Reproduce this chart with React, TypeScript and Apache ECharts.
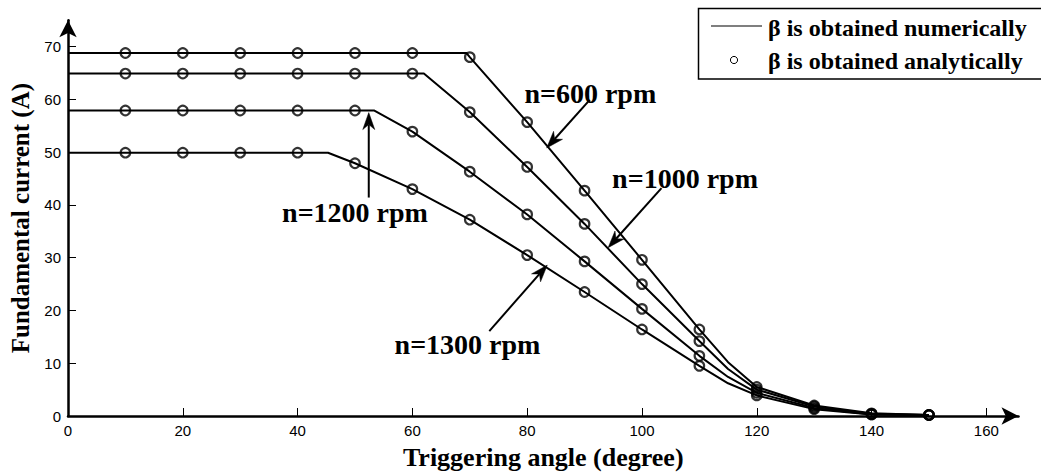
import React, { useEffect, useRef } from "react";
import * as echarts from "echarts";

// ---- data ----
const markerAngles = [10, 20, 30, 40, 50, 60, 70, 80, 90, 100, 110, 120, 130, 140, 150];

// analytical results (circles)
const analytic600 = [68.8, 68.8, 68.8, 68.8, 68.8, 68.8, 68.0, 55.7, 42.7, 29.6, 16.4, 5.5, 2.0, 0.5, 0.2];
const analytic1000 = [64.9, 64.9, 64.9, 64.9, 64.9, 64.9, 57.6, 47.2, 36.4, 25.0, 14.2, 5.0, 1.8, 0.4, 0.2];
const analytic1200 = [57.9, 57.9, 57.9, 57.9, 57.9, 53.9, 46.3, 38.2, 29.3, 20.3, 11.4, 4.4, 1.5, 0.3, 0.2];
const analytic1300 = [49.9, 49.9, 49.9, 49.9, 47.9, 43.0, 37.2, 30.5, 23.5, 16.4, 9.5, 3.9, 1.3, 0.3, 0.2];

// numerical results (lines): [angle, current]
const numeric600 = [[0, 68.8], [69.4, 68.8], [70, 68.0], [80, 55.7], [90, 42.7], [100, 29.6], [110, 16.4], [115, 10.2], [120, 5.5], [130, 2.0], [140, 0.5], [150, 0.2]];
const numeric1000 = [[0, 64.9], [62, 64.9], [70, 57.6], [80, 47.2], [90, 36.4], [100, 25.0], [110, 14.2], [115, 8.9], [120, 5.0], [130, 1.8], [140, 0.4], [150, 0.2]];
const numeric1200 = [[0, 57.9], [53.3, 57.9], [60, 53.9], [70, 46.3], [80, 38.2], [90, 29.3], [100, 20.3], [110, 11.4], [115, 7.4], [120, 4.4], [130, 1.5], [140, 0.3], [150, 0.2]];
const numeric1300 = [[0, 49.9], [45.3, 49.9], [50, 47.9], [60, 43.0], [70, 37.2], [80, 30.5], [90, 23.5], [100, 16.4], [110, 9.5], [115, 6.2], [120, 3.9], [130, 1.3], [140, 0.3], [150, 0.2]];

const xTicks = [0, 20, 40, 60, 80, 100, 120, 140, 160];
const yTicks = [0, 10, 20, 30, 40, 50, 60, 70];

const legendNumeric = "\u03b2 is obtained numerically";
const legendAnalytic = "\u03b2 is obtained analytically";

// annotations in data coordinates: label centre, arrow tail, arrow tip
const annotations = [
  { text: "n=600 rpm", at: [91.0, 61.2], from: [90.9, 59.9], to: [83.4, 50.8] },
  { text: "n=1000 rpm", at: [107.5, 45.1], from: [103.4, 43.2], to: [94.1, 31.9] },
  { text: "n=1200 rpm", at: [50.0, 38.5], from: [52.4, 41.4], to: [52.4, 57.5] },
  { text: "n=1300 rpm", at: [69.6, 13.6], from: [73.4, 16.1], to: [83.5, 28.6] },
];

const SERIF = '"Liberation Serif", "Times New Roman", serif';
const SANS = '"Liberation Sans", Arial, Helvetica, sans-serif';

function lineSeries(name: string, data: number[][]) {
  return {
    name,
    type: "line",
    data,
    symbol: "none",
    smooth: false,
    lineStyle: { color: "#000", width: 2 },
    z: 3,
  };
}

function scatterSeries(name: string, values: number[]) {
  return {
    name,
    type: "scatter",
    data: markerAngles.map((a, i) => [a, values[i]]),
    symbol: "circle",
    symbolSize: 9.5,
    itemStyle: { color: "rgba(0,0,0,0)", borderColor: "#000", borderWidth: 2.2 },
    z: 4,
  };
}

function arrowHead(tip: number[], tail: number[], len: number, half: number) {
  const dx = tip[0] - tail[0];
  const dy = tip[1] - tail[1];
  const d = Math.sqrt(dx * dx + dy * dy) || 1;
  const ux = dx / d;
  const uy = dy / d;
  const nx = -uy;
  const ny = ux;
  const bx = tip[0] - ux * len;
  const by = tip[1] - uy * len;
  const mx = tip[0] - ux * len * 0.7;
  const my = tip[1] - uy * len * 0.7;
  return [
    [tip[0], tip[1]],
    [bx + nx * half, by + ny * half],
    [mx, my],
    [bx - nx * half, by - ny * half],
  ];
}

export default function App() {
  const ref = useRef<HTMLDivElement>(null);

  useEffect(() => {
    if (!ref.current) return;
    const chart = echarts.init(ref.current, undefined, { renderer: "svg" });

    const option: any = {
      animation: false,
      backgroundColor: "#fff",
      grid: { left: 68, right: 22.5, top: 20.25, bottom: 58.3, containLabel: false },
      xAxis: {
        type: "value",
        min: 0,
        max: 165.6,
        name: "Triggering angle (degree)",
        nameLocation: "middle",
        nameGap: 28,
        nameTextStyle: { fontFamily: SERIF, fontWeight: "bold", fontSize: 26, color: "#000" },
        axisLine: {
          onZero: false,
          symbol: ["none", "arrow"],
          symbolSize: [13, 17],
          lineStyle: { color: "#000", width: 2.5 },
        },
        axisTick: {
          inside: true,
          length: 8,
          customValues: xTicks,
          lineStyle: { color: "#000", width: 1 },
        },
        axisLabel: {
          customValues: xTicks,
          margin: 7,
          fontFamily: SANS,
          fontSize: 15,
          color: "#000",
        },
        splitLine: { show: false },
      },
      yAxis: {
        type: "value",
        min: 0,
        max: 75,
        name: "Fundamental current (A)",
        nameLocation: "middle",
        nameRotate: 90,
        nameGap: 33,
        nameTextStyle: { fontFamily: SERIF, fontWeight: "bold", fontSize: 25, color: "#000" },
        axisLine: {
          onZero: false,
          symbol: ["none", "arrow"],
          symbolSize: [13, 17],
          lineStyle: { color: "#000", width: 2.5 },
        },
        axisTick: {
          inside: true,
          length: 8,
          customValues: yTicks,
          lineStyle: { color: "#000", width: 1 },
        },
        axisLabel: {
          customValues: yTicks,
          margin: 7,
          fontFamily: SANS,
          fontSize: 15,
          color: "#000",
        },
        splitLine: { show: false },
      },
      series: [
        lineSeries(legendNumeric, numeric600),
        lineSeries(legendNumeric, numeric1000),
        lineSeries(legendNumeric, numeric1200),
        lineSeries(legendNumeric, numeric1300),
        scatterSeries(legendAnalytic, analytic600),
        scatterSeries(legendAnalytic, analytic1000),
        scatterSeries(legendAnalytic, analytic1200),
        scatterSeries(legendAnalytic, analytic1300),
      ],
    };
    chart.setOption(option);

    const graphics: any[] = [];
    annotations.forEach((a) => {
      const at = chart.convertToPixel({ gridIndex: 0 }, a.at) as number[];
      const from = chart.convertToPixel({ gridIndex: 0 }, a.from) as number[];
      const to = chart.convertToPixel({ gridIndex: 0 }, a.to) as number[];
      const head = arrowHead(to, from, 17, 6);
      const dist = Math.hypot(from[0] - to[0], from[1] - to[1]) || 1;
      const neck = [to[0] + (from[0] - to[0]) * (12 / dist), to[1] + (from[1] - to[1]) * (12 / dist)];
      graphics.push({
        type: "line",
        shape: { x1: from[0], y1: from[1], x2: neck[0], y2: neck[1] },
        style: { stroke: "#000", lineWidth: 2 },
        z: 10,
      });
      graphics.push({
        type: "polygon",
        shape: { points: head },
        style: { fill: "#000", stroke: "#000", lineWidth: 0.5 },
        z: 10,
      });
      graphics.push({
        type: "text",
        x: at[0],
        y: at[1],
        style: {
          text: a.text,
          fontFamily: SERIF,
          fontWeight: "bold",
          fontSize: 28,
          fill: "#000",
          align: "center",
          verticalAlign: "middle",
        },
        z: 9,
      });
    });

    // legend box
    graphics.push({
      type: "rect",
      shape: { x: 698.5, y: 8.5, width: 360, height: 70.5 },
      style: { fill: "#fff", stroke: "#000", lineWidth: 1.5 },
      z: 20,
    });
    graphics.push({
      type: "line",
      shape: { x1: 711, y1: 26, x2: 762, y2: 26 },
      style: { stroke: "#555", lineWidth: 1.5 },
      z: 21,
    });
    graphics.push({
      type: "circle",
      shape: { cx: 734, cy: 60, r: 3.6 },
      style: { fill: "none", stroke: "#000", lineWidth: 1 },
      z: 21,
    });
    graphics.push({
      type: "text",
      x: 768,
      y: 28,
      style: { text: legendNumeric, fontFamily: SERIF, fontWeight: "bold", fontSize: 24, fill: "#000", align: "left", verticalAlign: "middle" },
      z: 21,
    });
    graphics.push({
      type: "text",
      x: 768,
      y: 61,
      style: { text: legendAnalytic, fontFamily: SERIF, fontWeight: "bold", fontSize: 24, fill: "#000", align: "left", verticalAlign: "middle" },
      z: 21,
    });

    chart.setOption({ graphic: graphics });

    return () => {
      chart.dispose();
    };
  }, []);

  return (
    <div
      ref={ref}
      style={{ position: "absolute", left: 0, top: 0, width: 1041, height: 475, background: "#fff" }}
    />
  );
}
